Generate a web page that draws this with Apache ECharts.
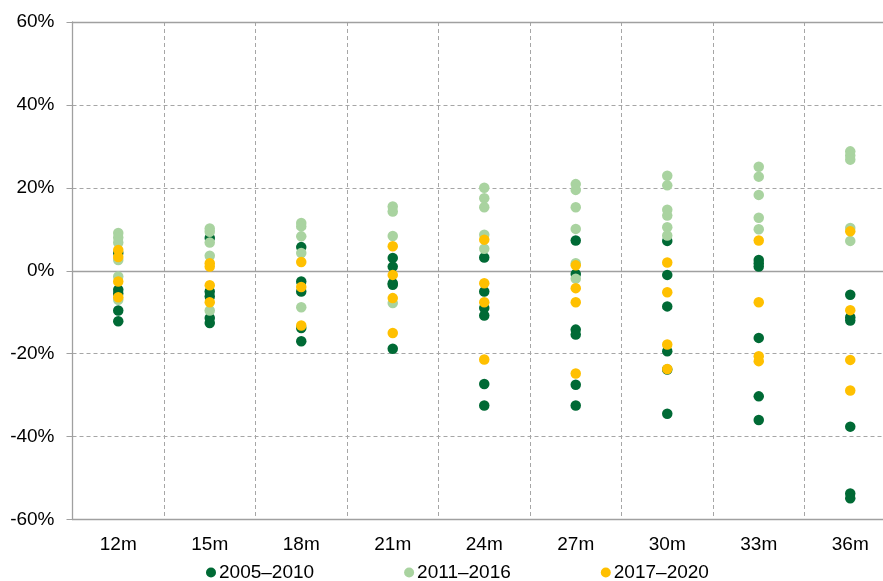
<!DOCTYPE html>
<html>
<head>
<meta charset="utf-8">
<script src="https://cdn.jsdelivr.net/npm/echarts@6/dist/echarts.min.js"></script>
<style>html,body{margin:0;padding:0;background:#fff;overflow:hidden;width:883px;height:581px;}#c{width:897px;height:581px;}</style>
</head>
<body>
<div id="c"></div>
<script>
var categories = ['12m','15m','18m','21m','24m','27m','30m','33m','36m'];
var yTicks = [-60,-40,-20,0,20,40,60];
var seriesNames = ['2005\u20132010','2011\u20132016','2017\u20132020'];

var s2005_2010 = [
  [4.3, -4.6, -5.5, -9.6, -12.2],
  [7.9, -5, -6.2, -11.4, -12.6],
  [5.7, -2.6, -5, -13.8, -17],
  [3.1, 1, -3, -3.4, -18.8],
  [3.2, -5, -9, -10.8, -27.3, -32.5],
  [7.3, -0.8, -14.2, -15.4, -27.5, -32.5],
  [7.2, -1, -8.6, -19.4, -23.8, -34.5],
  [2.6, 1.8, 1, -16.2, -30.3, -36],
  [-5.8, -11.2, -12, -37.6, -53.7, -54.9]
];
var s2011_2016 = [
  [9.1, 8, 6.8, 2.6, -1.4, -7],
  [10.2, 9.4, 6.8, 3.6, -9.6],
  [11.5, 10.7, 8.3, 4.3, -8.8],
  [15.5, 14.3, 8.4, -7.8],
  [20, 17.5, 15.3, 8.7, 5.3],
  [20.9, 19.5, 15.3, 10.1, 1.8, -1.9],
  [22.9, 20.6, 14.7, 13.3, 10.5, 8.5],
  [25.1, 22.7, 18.3, 12.8, 10],
  [28.8, 27.8, 26.8, 10.3, 7.2]
];
var s2017_2020 = [
  [5, 3.3, -2.6, -6.4],
  [1.8, 1, -3.5, -7.6],
  [2.1, -3.9, -13.2],
  [5.9, -1, -6.6, -15],
  [7.5, -3, -7.6, -21.4],
  [1.3, -4.2, -7.6, -24.8],
  [2, -5.2, -17.8, -23.7],
  [7.3, -7.6, -20.6, -21.8],
  [9.5, -9.5, -21.5, -28.9]
];
var colors = ['#006a35', '#a9d3a0', '#ffc000'];

function toPoints(arr) {
  var out = [];
  arr.forEach(function (vals, i) {
    vals.forEach(function (v) { out.push([categories[i], v]); });
  });
  return out;
}

var allSeries = [s2005_2010, s2011_2016, s2017_2020].map(function (arr, k) {
  var s = {
    name: seriesNames[k],
    type: 'scatter',
    symbol: 'circle',
    symbolSize: 10.5,
    itemStyle: { color: colors[k], opacity: 1 },
    data: toPoints(arr),
    z: 3 + k
  };
  if (k === 0) {
    s.markLine = {
      silent: true,
      symbol: 'none',
      label: { show: false },
      lineStyle: { color: '#a0a0a0', type: 'solid', width: 1.3 },
      z: 1,
      data: [{ yAxis: 0 }, { yAxis: 60 }]
    };
  }
  return s;
});

var chart = echarts.init(document.getElementById('c'), null, { renderer: 'canvas' });
chart.setOption({
  animation: false,
  backgroundColor: '#ffffff',
  textStyle: { fontFamily: 'Liberation Sans, Arial, sans-serif' },
  grid: { left: 72.5, right: 1, top: 22, bottom: 61.5, containLabel: false },
  legend: {
    left: 201,
    top: 558,
    itemWidth: 10,
    itemHeight: 10,
    itemGap: 90,
    icon: 'circle',
    textStyle: { fontSize: 19, color: '#000', fontFamily: 'Liberation Sans, Arial, sans-serif', padding: [0,0,0,-2] },
    data: seriesNames
  },
  xAxis: {
    type: 'category',
    data: categories,
    boundaryGap: true,
    axisLine: { onZero: false, lineStyle: { color: '#a0a0a0', width: 1.3 } },
    axisTick: { show: false },
    axisLabel: { fontSize: 19, color: '#000', margin: 16, interval: 0 },
    splitLine: { show: true, interval: 0, lineStyle: { color: '#a6a6a6', type: [4, 3], width: 1 } }
  },
  yAxis: {
    type: 'value',
    min: yTicks[0],
    max: yTicks[yTicks.length - 1],
    interval: 20,
    axisLine: { show: true, lineStyle: { color: '#a0a0a0', width: 1.3 } },
    axisTick: { show: true, inside: false, length: 6, lineStyle: { color: '#a0a0a0' } },
    axisLabel: { fontSize: 19, color: '#000', margin: 18, formatter: '{value}%' },
    splitLine: { show: true, lineStyle: { color: '#a6a6a6', type: [4, 3], width: 1 } }
  },
  series: allSeries
});
</script>
</body>
</html>
